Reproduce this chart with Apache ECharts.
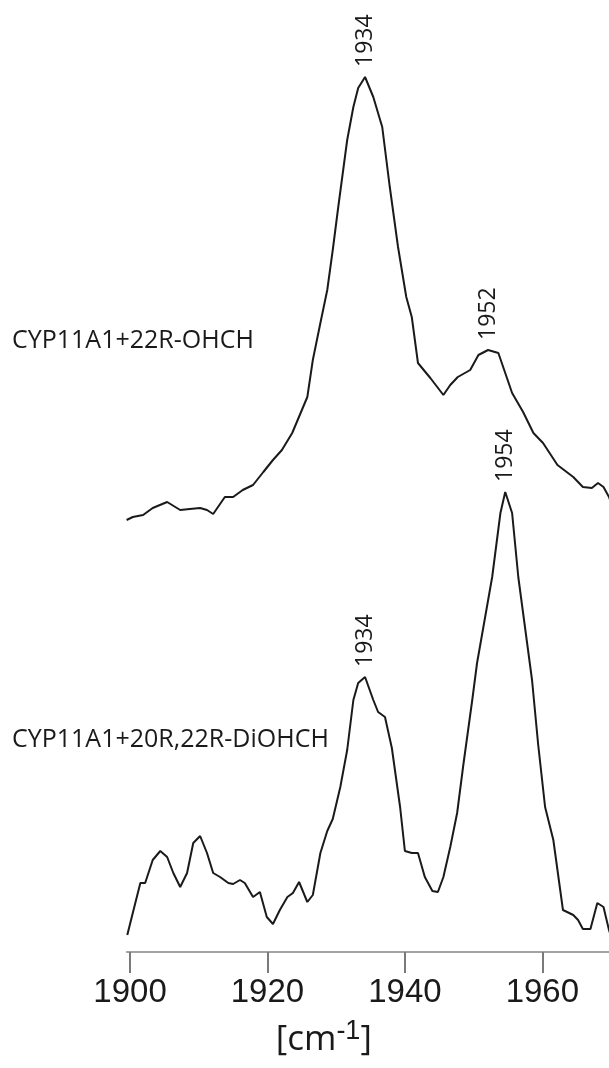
<!DOCTYPE html>
<html>
<head>
<meta charset="utf-8">
<script src="https://cdn.jsdelivr.net/npm/echarts@6/dist/echarts.min.js"></script>
<style>
  html, body { margin: 0; padding: 0; background: #fff; }
  #chart { width: 609px; height: 1068px; }
</style>
</head>
<body>
<div id="chart"></div>
<script>
// wavenumbers [cm-1] and intensities (arbitrary units, stacked offset)
const wnTop = [1899.5, 1900.4, 1901.9, 1903.3, 1905.4, 1907.3, 1908.7, 1910.2, 1911.2, 1912.1,
  1913.8, 1915.0, 1916.4, 1917.9, 1919.4, 1920.8, 1922.1, 1923.6, 1924.7, 1925.8,
  1926.6, 1927.7, 1928.7, 1929.5, 1930.3, 1931.6, 1932.5, 1933.2, 1934.2, 1935.4,
  1936.7, 1937.8, 1939.0, 1940.2, 1941.0, 1941.9, 1943.7, 1945.6, 1946.6, 1947.7,
  1949.5, 1950.7, 1952.1, 1953.6, 1955.6, 1957.2, 1958.7, 1960.1, 1962.2, 1964.5,
  1965.9, 1967.2, 1968.1, 1968.9, 1969.7, 1970.5];
const valTop = [432, 435, 437, 444, 450, 442, 443, 444, 442, 438,
  455, 455, 462, 467, 480, 492, 502, 519, 537, 555,
  592, 629, 662, 702, 745, 812, 845, 864, 875, 855,
  825, 765, 705, 655, 635, 589, 574, 557, 567, 575,
  582, 597, 602, 599, 559, 540, 519, 509, 487, 475,
  465, 464, 469, 465, 455, 440];

const wnBottom = [1899.6, 1900.4, 1901.5, 1902.2, 1903.3, 1904.4, 1905.4, 1906.3, 1907.3, 1908.3,
  1909.2, 1910.2, 1911.2, 1912.1, 1913.1, 1914.3, 1915.0, 1916.0, 1916.7, 1917.9,
  1918.9, 1919.9, 1920.8, 1921.8, 1922.9, 1923.7, 1924.6, 1925.8, 1926.6, 1927.7,
  1928.7, 1929.5, 1930.6, 1931.6, 1932.5, 1933.2, 1934.2, 1935.4, 1936.1, 1937.1,
  1938.1, 1939.3, 1940.0, 1941.0, 1941.9, 1942.9, 1944.0, 1944.8, 1945.6, 1946.6,
  1947.6, 1948.5, 1949.8, 1950.5, 1952.7, 1953.9, 1954.6, 1955.6, 1956.5, 1958.5,
  1959.4, 1960.4, 1961.6, 1963.0, 1964.5, 1965.2, 1965.9, 1967.0, 1968.0, 1968.9,
  1969.7, 1970.5];
const valBottom = [17, 39, 69, 69, 92, 101, 95, 79, 65, 79,
  109, 116, 99, 79, 75, 69, 68, 72, 69, 55,
  60, 35, 28, 42, 55, 59, 70, 50, 57, 99,
  121, 133, 165, 202, 252, 269, 275, 252, 240, 235,
  204, 145, 101, 99, 99, 75, 61, 60, 75, 105,
  139, 187, 252, 289, 375, 439, 460, 439, 375, 272,
  207, 145, 112, 42, 37, 32, 23, 23, 49, 45,
  22, 5];

const seriesNames = ['CYP11A1+22R-OHCH', 'CYP11A1+20R,22R-DiOHCH'];

// peak annotations: [wavenumber, intensity, text]
const peaksTop = [[1934.2, 875, '1934'], [1952.1, 602, '1952']];
const peaksBottom = [[1934.2, 275, '1934'], [1954.6, 460, '1954']];

const xTicks = [1900, 1920, 1940, 1960];

const chart = echarts.init(document.getElementById('chart'), null, { renderer: 'canvas' });

function pairs(xs, ys) {
  return xs.map((x, i) => [x, ys[i]]);
}

function peakMarks(peaks, gap) {
  return {
    symbol: 'circle',
    symbolSize: 0,
    silent: true,
    label: {
      show: true,
      position: 'top',
      distance: gap,
      rotate: 90,
      align: 'left',
      verticalAlign: 'middle',
      color: '#1a1a1a',
      fontFamily: 'Open Sans',
      fontSize: 23,
      formatter: p => p.name
    },
    data: peaks.map(p => ({ name: p[2], coord: [p[0], p[1]] }))
  };
}

const lineStyle = { color: '#1a1a1a', width: 2 };

const option = {
  animation: false,
  backgroundColor: '#ffffff',
  grid: { left: 126.6, right: 0, top: 0, bottom: 116, containLabel: false, outerBoundsMode: 'none' },
  xAxis: {
    type: 'value',
    min: 1899.5,
    max: 1969.7,
    axisLine: { show: true, onZero: false, lineStyle: { color: '#858585', width: 1.6 } },
    axisTick: { show: true, inside: false, length: 21,
      lineStyle: { color: '#7a7a7a', width: 2 }, customValues: xTicks },
    axisLabel: {
      customValues: xTicks,
      formatter: v => String(v),
      margin: 24,
      color: '#1a1a1a',
      fontFamily: 'Liberation Sans',
      fontSize: 33
    },
    splitLine: { show: false },
    name: '{a|[cm}{s|-1}{a|]}',
    nameLocation: 'middle',
    nameGap: 66,
    nameTextStyle: {
      padding: [0, 88, 0, 0],
      rich: {
        a: { fontFamily: 'Open Sans', fontSize: 35, color: '#1a1a1a', lineHeight: 44 },
        s: { fontFamily: 'Liberation Sans', fontSize: 27, color: '#1a1a1a',
          verticalAlign: 'top', lineHeight: 44, padding: [0, 0, 16, 0] }
      }
    }
  },
  yAxis: {
    type: 'value',
    min: 0,
    max: 952,
    show: false
  },
  graphic: [
    { type: 'text', left: 12, top: 328,
      style: { text: seriesNames[0], fontFamily: 'Open Sans', fontSize: 25, fill: '#1a1a1a' } },
    { type: 'text', left: 12, top: 727,
      style: { text: seriesNames[1], fontFamily: 'Open Sans', fontSize: 25, fill: '#1a1a1a' } }
  ],
  series: [
    {
      name: seriesNames[0],
      type: 'line',
      data: pairs(wnTop, valTop),
      showSymbol: false,
      lineStyle: lineStyle,
      clip: true,
      markPoint: peakMarks(peaksTop, 10)
    },
    {
      name: seriesNames[1],
      type: 'line',
      data: pairs(wnBottom, valBottom),
      showSymbol: false,
      lineStyle: lineStyle,
      clip: true,
      markPoint: peakMarks(peaksBottom, 10)
    }
  ]
};

chart.setOption(option);
</script>
</body>
</html>
